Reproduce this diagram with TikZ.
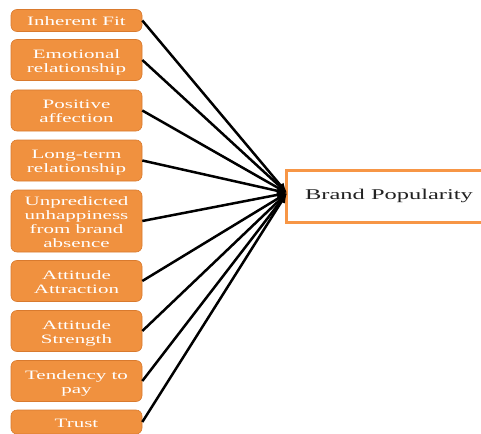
\documentclass[tikz,border=0pt]{standalone}
\usepackage{fontspec}
\setmainfont{Liberation Serif}
\usetikzlibrary{arrows.meta}
\definecolor{boxfill}{HTML}{F0913F}
\definecolor{boxedge}{HTML}{D97A2E}
\definecolor{bpedge}{HTML}{F79646}
\definecolor{bptext}{HTML}{222222}
\newcommand{\sxt}[1]{\raisebox{-2.5pt}[\height][\depth]{\scalebox{1.64}[1]{\begin{tabular}{@{}c@{}}#1\end{tabular}}}}
\tikzset{
  leftbox/.style={draw=boxedge, line width=0.6pt, fill=boxfill, rounded corners=6pt,
    minimum width=131pt, inner sep=0pt, text=white,
    font=\fontsize{12.8}{14}\selectfont},
  bpbox/.style={draw=bpedge, line width=3pt, fill=white, minimum width=206pt,
    minimum height=52pt, inner sep=0pt, text=bptext,
    font=\fontsize{14.9}{17}\selectfont},
  conn/.style={line width=2.5pt, black, -{Latex[length=10pt,width=8pt]}}
}
\begin{document}
\begin{tikzpicture}[x=1pt,y=-1pt]
\useasboundingbox (0,0) rectangle (481,433);
\node[leftbox, minimum height=22pt] (b1) at (76.5,20.5) {\sxt{Inherent Fit}};
\node[leftbox, minimum height=41pt] (b2) at (76.5,60) {\sxt{Emotional\\relationship}};
\node[leftbox, minimum height=41pt] (b3) at (76.5,110.5) {\sxt{Positive\\affection}};
\node[leftbox, minimum height=41pt] (b4) at (76.5,160.5) {\sxt{Long-term\\relationship}};
\node[leftbox, minimum height=62pt] (b5) at (76.5,221) {\sxt{Unpredicted\\unhappiness\\from brand\\absence}};
\node[leftbox, minimum height=41pt] (b6) at (76.5,281) {\sxt{Attitude\\Attraction}};
\node[leftbox, minimum height=41pt] (b7) at (76.5,331) {\sxt{Attitude\\Strength}};
\node[leftbox, minimum height=41pt] (b8) at (76.5,381) {\sxt{Tendency to\\pay}};
\node[leftbox, minimum height=24pt] (b9) at (76.5,422) {\sxt{Trust}};
\node[bpbox] (bp) at (389,196) {\scalebox{1.64}[1]{Brand Popularity}};
\coordinate (tip) at (287,193);
\foreach \b in {b1,b2,b3,b4,b5,b6,b7,b8,b9}{
  \draw[conn] (\b.east) -- (tip);
}
\end{tikzpicture}
\end{document}
